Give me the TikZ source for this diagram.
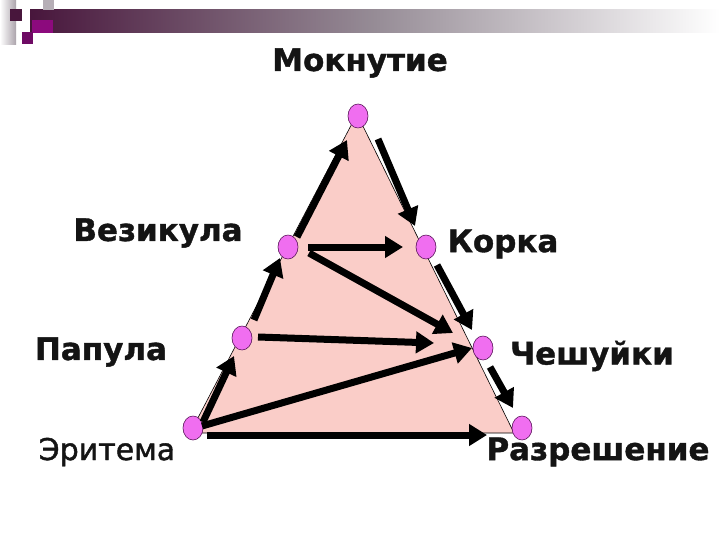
\documentclass[tikz,border=0pt]{standalone}
\usepackage{fontspec}
\setmainfont{DejaVu Sans}
\newfontfamily\heavyfont{DejaVu Sans Bold}[FakeBold=1.2]
\newfontfamily\plainfont{DejaVu Sans}[FakeBold=1.4]
\usetikzlibrary{arrows.meta,shapes.geometric}
\definecolor{trifill}{RGB}{250,205,200}
\definecolor{dotfill}{RGB}{240,110,240}
\definecolor{dotline}{RGB}{90,20,90}
\definecolor{bandA}{RGB}{72,22,60}
\definecolor{bandB}{RGB}{150,140,150}
\definecolor{magA}{RGB}{140,10,125}
\definecolor{magB}{RGB}{110,10,100}
\tikzset{
  stage/.style={ellipse,draw=dotline,line width=0.6pt,fill=dotfill,minimum width=20pt,minimum height=24pt,inner sep=0pt},
  flow/.style={line width=7pt,-{Triangle[length=18pt,width=21pt]},black},
  lbl/.style={font=\heavyfont\fontsize{31}{33}\selectfont,text=black!92,inner sep=0pt},
  lblplain/.style={font=\plainfont\fontsize{30}{33}\selectfont,text=black!92,inner sep=0pt}
}
\begin{document}
\begin{tikzpicture}[x=1pt,y=-1pt]
\useasboundingbox (0,0) rectangle (720,540);
\fill[white] (0,0) rectangle (720,540);
% top banner
\shade[left color=bandA,right color=white,middle color=bandB] (30,10) rectangle (720,33);
\shade[left color=white,right color=bandB!80] (0,0) rectangle (16,45);
\fill[bandB!70] (43,0) rectangle (54,10);
\fill[bandA] (10,9) rectangle (22,21);
\fill[magA] (32,20) rectangle (53,33);
\fill[magB] (22,32) rectangle (33,44);
% triangle
\coordinate (ta) at (357,114);
\coordinate (tl) at (190,433);
\coordinate (tr) at (514,433);
\filldraw[fill=trifill,draw=black,line width=0.6pt] (ta) -- (tl) -- (tr) -- cycle;
% stages
\node[stage] (mok) at (358,116) {};
\node[stage] (vez) at (288,247) {};
\node[stage] (kor) at (426,247) {};
\node[stage] (pap) at (242,338) {};
\node[stage] (che) at (483,348) {};
\node[stage] (eri) at (193,428) {};
\node[stage] (raz) at (522,428) {};
% labels
\node[lbl] (tmok) at (360,63) {Мокнутие};
\node[lbl] (tvez) at (158,233) {Везикула};
\node[lbl] (tkor) at (503,244) {Корка};
\node[lbl] (tpap) at (101,352) {Папула};
\node[lbl] (tche) at (592,356) {Чешуйки};
\node[lblplain] (teri) at (107,452) {Эритема};
\node[lbl] (traz) at (598,452) {Разрешение};
% arrow end points
\coordinate (a1s) at (203,422); \coordinate (a1e) at (234,356);
\coordinate (a2s) at (254,320); \coordinate (a2e) at (280,258);
\coordinate (a3s) at (297,237); \coordinate (a3e) at (347,140);
\coordinate (a4s) at (378,139); \coordinate (a4e) at (415,226);
\coordinate (a5s) at (308,247); \coordinate (a5e) at (403,247);
\coordinate (a6s) at (309,253); \coordinate (a6e) at (453,333);
\coordinate (a7s) at (437,265); \coordinate (a7e) at (472,330);
\coordinate (a8s) at (258,337); \coordinate (a8e) at (434,343);
\coordinate (a9s) at (202,426); \coordinate (a9e) at (472,348);
\coordinate (a10s) at (207,435); \coordinate (a10e) at (487,435);
\coordinate (a11s) at (490,367); \coordinate (a11e) at (513,408);
\draw[flow] (a1s) -- (a1e);
\draw[flow] (a2s) -- (a2e);
\draw[flow] (a3s) -- (a3e);
\draw[flow] (a4s) -- (a4e);
\draw[flow] (a5s) -- (a5e);
\draw[flow] (a6s) -- (a6e);
\draw[flow] (a7s) -- (a7e);
\draw[flow] (a8s) -- (a8e);
\draw[flow] (a9s) -- (a9e);
\draw[flow] (a10s) -- (a10e);
\draw[flow] (a11s) -- (a11e);
\end{tikzpicture}
\end{document}
